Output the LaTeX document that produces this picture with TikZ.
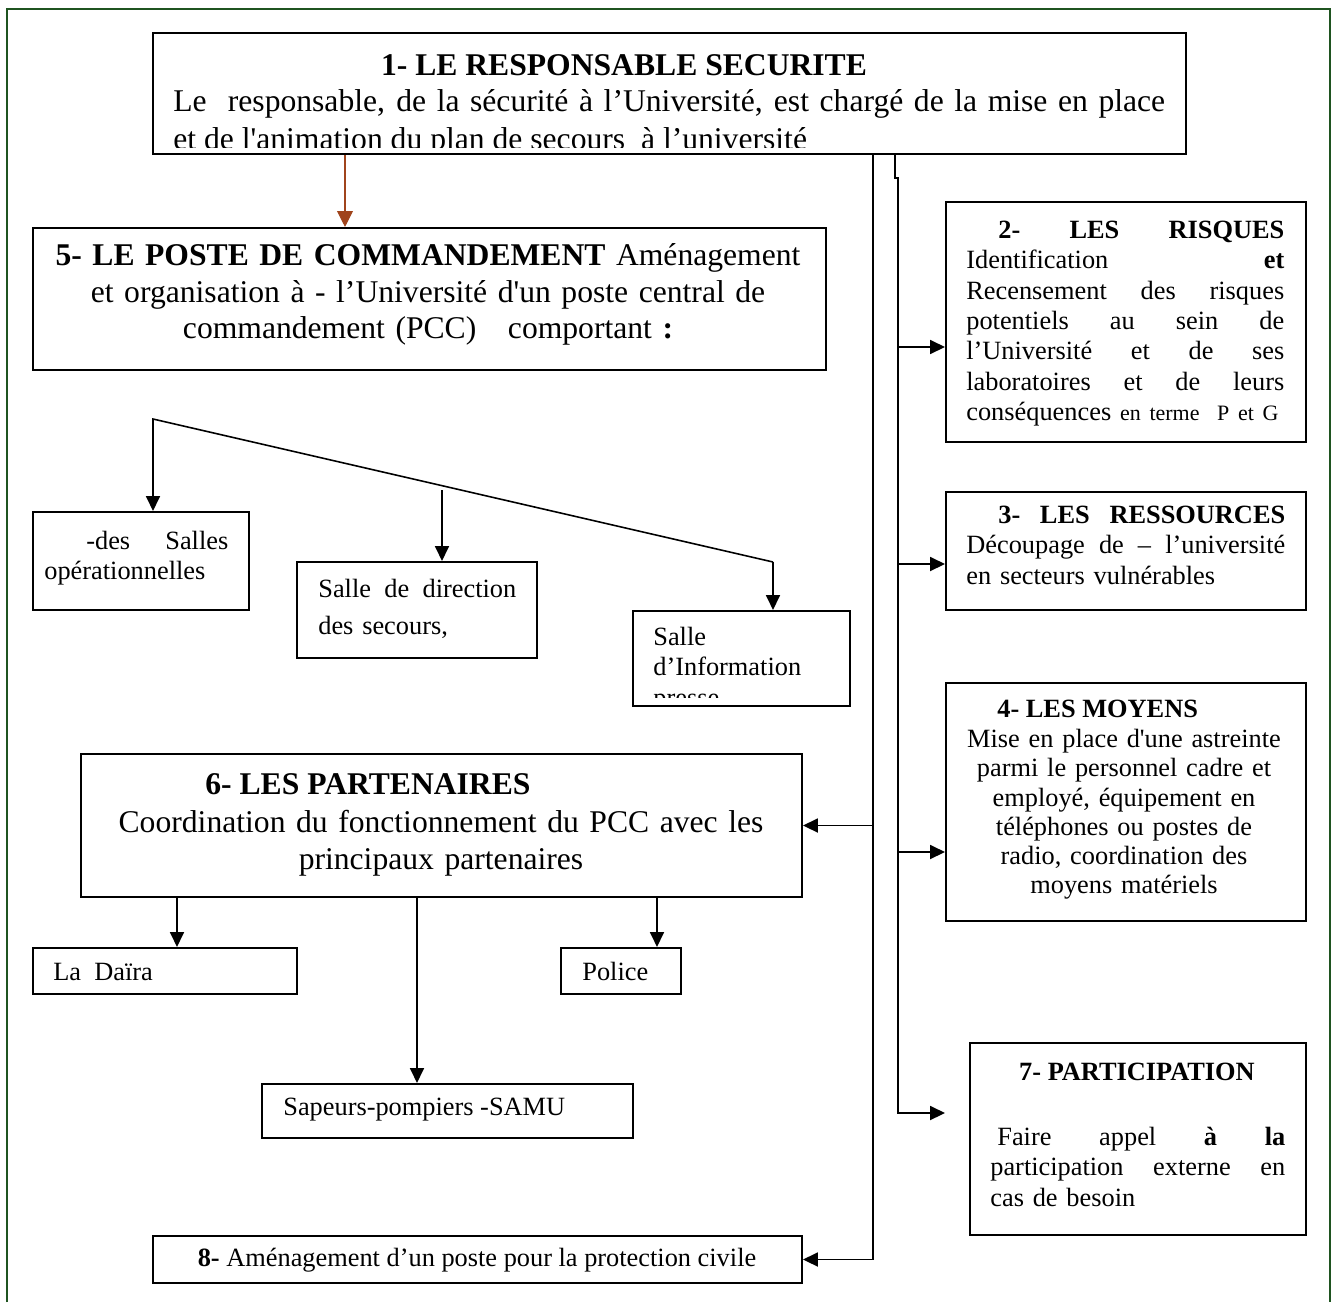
\documentclass[tikz,border=0pt]{standalone}
\usepackage{fontspec}
\setmainfont{Liberation Serif}
\usetikzlibrary{arrows.meta}
\definecolor{framegreen}{HTML}{1F5420}
\definecolor{pccbrown}{HTML}{A0441C}
\tikzset{plan box/.style={draw,line width=1.2pt,inner sep=0pt}}
\tikzset{plan line/.style={line width=0.9pt}}
\tikzset{plan link/.style={plan line,-{Triangle[length=8.5pt,width=8pt]}}}
\tikzset{pcc link/.style={draw=pccbrown,line width=0.6pt,
    -{Triangle[length=9pt,width=9pt,fill=pccbrown]}}}
\tikzset{big text/.style={inner sep=0pt,font=\fontsize{18}{21}\selectfont}}
\tikzset{small text/.style={inner sep=0pt,font=\fontsize{15}{17.3}\selectfont}}

\begin{document}
\begin{tikzpicture}[x=0.02cm,y=-0.02cm]
  \useasboundingbox (0,0) rectangle (1332,1302);
  % page frame, open at the bottom
  \draw[framegreen,line width=1.2pt] (7,1302) -- (7,9) -- (1330,9) -- (1330,1302);

  % 1- responsable
  \node[plan box,minimum width=20.66cm,minimum height=2.42cm] (resp) at (669.5,93.5) {};
  \node[big text,anchor=base] (resptitle) at (624,75) {\bfseries 1- LE RESPONSABLE SECURITE};
  \node[big text,anchor=base west] (respline) at (173,111)
    {\makebox[19.84cm][s]{Le\ \ responsable, de la sécurité à l’Université, est chargé de la mise en place}};
  \begin{scope}
    \clip (153,33) rectangle (1186,147.5);
    \node[big text,anchor=base west] (respcut) at (173,149)
      {et de l\textquotesingle animation du plan de secours\ \ à l’université};
  \end{scope}

  % 5- poste de commandement
  \node[plan box,minimum width=15.86cm,minimum height=2.84cm] (pcc) at (429.5,299) {};
  \node[big text,anchor=north,text width=15.4cm,align=center] (pcctext) at (428,239)
    {\strut\textbf{5- LE POSTE DE COMMANDEMENT} Aménagement\\
     et organisation à - l’Université d\textquotesingle un poste central de\\
     commandement (PCC)\ \ \ comportant \textbf{:}};

  % salles
  \node[plan box,minimum width=4.32cm,minimum height=1.96cm] (salles) at (141,561) {};
  \node[small text,anchor=north west,text width=3.68cm,align=left] (sallestext) at (44,527.6)
    {\strut\hspace*{0.84cm}-des\hfill Salles\\ opérationnelles};
  \node[plan box,minimum width=4.8cm,minimum height=1.92cm] (direction) at (417,610) {};
  \node[small text,font=\fontsize{15}{21}\selectfont,anchor=north west,text width=3.96cm,align=left]
    (directiontext) at (318,571) {\strut Salle\hfill de\hfill direction\\ des secours,};
  \node[plan box,minimum width=4.34cm,minimum height=1.9cm] (info) at (741.5,658.5) {};
  \begin{scope}
    \clip (633,611) rectangle (850,697);
    \node[small text,anchor=north west,text width=3.9cm,align=left] (infotext) at (653,623.6)
      {\strut Salle\\ d’Information\\ presse};
  \end{scope}

  \coordinate (fan) at (153,419);
  \coordinate (fanmid) at (442,490);
  \coordinate (fanend) at (773,562);
  \draw[plan link] (fanend) -- (fan) -- (salles.north -| fan);
  \draw[plan link] (fanmid) -- (direction.north -| fanmid);
  \draw[plan link] (fanend) -- (info.north -| fanend);

  % 6- partenaires
  \node[plan box,minimum width=14.42cm,minimum height=2.86cm] (part) at (441.5,825.5) {};
  \node[big text,anchor=base west] (parttitle) at (205,794) {\bfseries 6- LES PARTENAIRES};
  \node[big text,anchor=north,text width=14cm,align=center] (parttext) at (441,806)
    {\strut Coordination du fonctionnement du PCC avec les\\ principaux partenaires};

  \node[plan box,minimum width=5.28cm,minimum height=0.92cm] (daira) at (165,971) {};
  \node[small text,anchor=base west] (dairatext) at (53,980) {La\ \ Daïra};
  \node[plan box,minimum width=2.4cm,minimum height=0.92cm] (police) at (621,971) {};
  \node[small text,anchor=base west] (policetext) at (582,980) {Police};
  \node[plan box,minimum width=7.42cm,minimum height=1.08cm] (samu) at (447.5,1111) {};
  \node[small text,anchor=base west] (samutext) at (283,1115) {Sapeurs-pompiers -SAMU};

  \draw[plan link] (part.south -| 177,0) -- (daira.north -| 177,0);
  \draw[plan link] (part.south -| 657,0) -- (police.north -| 657,0);
  \draw[plan link] (part.south -| 417,0) -- (samu.north -| 417,0);

  % 8- protection civile
  \node[plan box,minimum width=12.98cm,minimum height=0.94cm] (civile) at (477.5,1259.5) {};
  \node[small text,anchor=base] (civiletext) at (477,1266)
    {\textbf{8-} Aménagement d’un poste pour la protection civile};

  % right column: 2, 3, 4, 7
  \node[plan box,minimum width=7.2cm,minimum height=4.8cm] (risques) at (1126,322) {};
  \node[small text,anchor=north west,text width=6.36cm,align=left] (risquestext) at (966,216.6)
    {\strut\hspace*{0.64cm}\textbf{2-}\hfill\textbf{LES}\hfill\textbf{RISQUES}\\
     Identification\hfill\textbf{et}\\
     Recensement\hfill des\hfill risques\\
     potentiels\hfill au\hfill sein\hfill de\\
     l’Université\hfill et\hfill de\hfill ses\\
     laboratoires\hfill et\hfill de\hfill leurs\\
     \mbox{conséquences {\fontsize{12.5}{17.3}\selectfont en terme\ \ P et G}}};

  \node[plan box,minimum width=7.2cm,minimum height=2.36cm] (ress) at (1126,551) {};
  \node[small text,anchor=north west,text width=6.38cm,align=left] (resstext) at (966,501.6)
    {\strut\hspace*{0.64cm}\textbf{3-}\hfill\textbf{LES}\hfill\textbf{RESSOURCES}\\
     Découpage\hfill de\hfill –\hfill l’université\\
     en secteurs vulnérables};

  \node[plan box,minimum width=7.2cm,minimum height=4.76cm] (moyens) at (1126,802) {};
  \node[small text,anchor=base west] (moyenstitle) at (997,717) {\bfseries 4- LES MOYENS};
  \node[small text,font=\fontsize{15}{16.6}\selectfont,anchor=north,text width=6.9cm,align=center]
    (moyenstext) at (1124,727)
    {\strut Mise en place d\textquotesingle une astreinte\\
     parmi le personnel cadre et\\
     employé, équipement en\\
     téléphones ou postes de\\
     radio, coordination des\\
     moyens matériels};

  \node[plan box,minimum width=6.72cm,minimum height=3.84cm] (particip) at (1138,1139) {};
  \node[small text,anchor=base] (participtitle) at (1137,1080) {\bfseries 7- PARTICIPATION};
  \node[small text,anchor=north west,text width=5.9cm,align=left] (participtext) at (990,1123.6)
    {\strut\hspace*{0.14cm}Faire\hfill appel\hfill\textbf{à}\hfill\textbf{la}\\
     participation\hfill externe\hfill en\\
     cas de besoin};

  % links from 1-
  \draw[pcc link] (resp.south -| 345,0) -- (pcc.north -| 345,0);
  \coordinate (spineA) at (873,0);
  \coordinate (spineB) at (898,0);
  \coordinate (participin) at (945,1113);
  \draw[plan link] (resp.south -| spineA) -- (spineA |- civile.east) -- (civile.east);
  \draw[plan link] (spineA |- part.east) -- (part.east);
  \draw[plan link] (resp.south -| 895,0) -- (895,178) -- (898,178)
    -- (spineB |- participin) -- (participin);
  \draw[plan link] (spineB |- 0,347) -- (risques.west |- 0,347);
  \draw[plan link] (spineB |- 0,564) -- (ress.west |- 0,564);
  \draw[plan link] (spineB |- 0,852) -- (moyens.west |- 0,852);
\end{tikzpicture}
\end{document}
